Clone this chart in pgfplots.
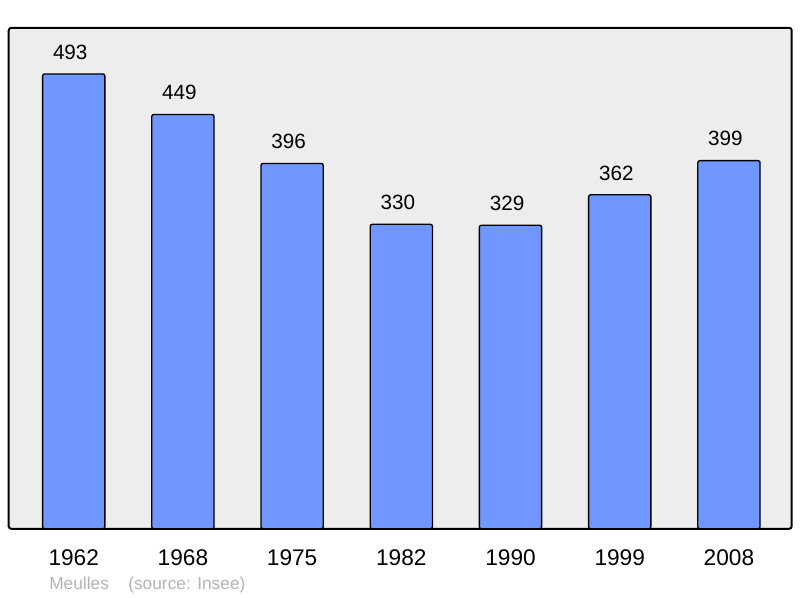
\documentclass[border=0pt]{standalone}
\usepackage{pgfplots}
\pgfplotsset{compat=1.18}
\usepackage{fontspec}
\setmainfont{Liberation Sans}

\definecolor{barblue}{HTML}{7096FF}
\definecolor{panel}{HTML}{EDEDED}
\definecolor{srcgray}{HTML}{B4B4B4}

\begin{document}
\begin{tikzpicture}[x=0.75pt,y=0.75pt]
  \useasboundingbox (0,0) rectangle (800,598);
  \begin{axis}[
      at={(8,75)}, anchor=south west,
      scale only axis,
      width=587.25pt, height=375.75pt,
      xmin=-0.595, xmax=6.575,
      ymin=0, ymax=543,
      axis background/.style={fill=panel},
      axis line style={line width=1.5pt, rounded corners=2pt},
      ybar, bar width=0.57, bar shift=0pt,
      xtick=data,
      xticklabels={1962,1968,1975,1982,1990,1999,2008},
      ytick=\empty,
      major tick length=0pt,
      xticklabel style={anchor=base, yshift=-27.75pt,
        font=\fontsize{17}{20}\selectfont},
      /pgf/number format/assume math mode=true,
      nodes near coords,
      nodes near coords style={anchor=base, yshift=11pt, xshift=-2.6pt,
        font=\fontsize{15.5}{18}\selectfont},
    ]
    \addplot[fill=barblue, draw=black, line width=1pt, rounded corners=1.5pt]
      coordinates {
        (0,493) (1,449) (2,396) (3,330) (4,329) (5,362) (6,399)
      };
  \end{axis}
  \node[anchor=base west, text=srcgray, font=\fontsize{13}{15}\selectfont, inner sep=0pt]
    at (49,8) {Meulles};
  \node[anchor=base west, text=srcgray, font=\fontsize{13}{15}\selectfont, inner sep=0pt]
    at (128,8) {(source: Insee)};
\end{tikzpicture}
\end{document}
